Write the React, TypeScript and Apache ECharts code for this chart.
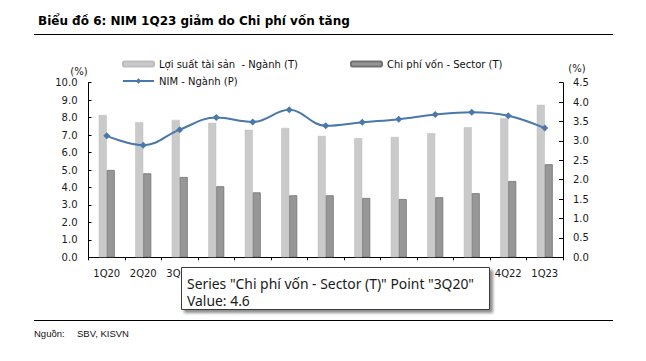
import React, { useEffect, useRef } from "react";
import * as echarts from "echarts";

const categories = ["1Q20", "2Q20", "3Q20", "4Q20", "1Q21", "2Q21", "3Q21", "4Q21", "1Q22", "2Q22", "3Q22", "4Q22", "1Q23"];
const assetYield = [8.15, 7.74, 7.87, 7.7, 7.3, 7.41, 6.95, 6.82, 6.89, 7.11, 7.45, 7.97, 8.73];
const costOfFunds = [5.0, 4.81, 4.6, 4.07, 3.72, 3.55, 3.55, 3.4, 3.34, 3.44, 3.67, 4.37, 5.33];
const nim = [3.13, 2.89, 3.29, 3.6, 3.49, 3.8, 3.39, 3.48, 3.56, 3.68, 3.74, 3.65, 3.33];

const seriesNames = ["Lợi suất tài sản  - Ngành (T)", "Chi phí vốn - Sector (T)", "NIM - Ngành (P)"];
const titleText = "Biểu đồ 6: NIM 1Q23 giảm do Chi phí vốn tăng";
const sourceLabel = "Nguồn:";
const sourceText = "SBV, KISVN";
const tipIndex = 2;
// x-axis labels hidden behind the hover box in the reference
const hiddenLabelFrom = 3;
const hiddenLabelTo = 10;

const FONT = "DejaVu Sans";

export default function App() {
  const ref = useRef<HTMLDivElement>(null);
  useEffect(() => {
    if (!ref.current) return;
    const chart = echarts.init(ref.current, undefined, { renderer: "svg" });
    const axisLabelStyle = { color: "#1a1a1a", fontSize: 10, fontFamily: FONT };
    const legendBase = {
      orient: "horizontal" as const,
      itemWidth: 31,
      itemHeight: 5,
      textStyle: { color: "#111", fontSize: 10, fontFamily: FONT },
      selectedMode: false,
    };
    chart.setOption({
      animation: false,
      backgroundColor: "#ffffff",
      grid: { left: 88.5, right: 83, top: 82.7, bottom: 103.7, containLabel: false },
      legend: [
        { ...legendBase, left: 117, top: 54, data: [seriesNames[0]] },
        { ...legendBase, left: 345, top: 54, data: [seriesNames[1]] },
        { ...legendBase, left: 117, top: 71, itemHeight: 7, data: [seriesNames[2]] },
      ],
      xAxis: {
        type: "category",
        data: categories,
        axisLine: { lineStyle: { color: "#000", width: 1 } },
        axisTick: { show: true, length: 3, interval: 0, lineStyle: { color: "#000" } },
        axisLabel: {
          ...axisLabelStyle,
          margin: 11,
          interval: (i: number) => i < hiddenLabelFrom || i > hiddenLabelTo,
        },
        splitLine: { show: false },
      },
      yAxis: [
        {
          type: "value",
          min: 0,
          max: 10,
          interval: 1,
          position: "left",
          axisLine: { show: true, lineStyle: { color: "#000", width: 1 } },
          axisTick: { show: true, inside: true, length: 3, lineStyle: { color: "#000" } },
          axisLabel: { ...axisLabelStyle, margin: 11, formatter: (v: number) => v.toFixed(1) },
          splitLine: { show: false },
        },
        {
          type: "value",
          min: 0,
          max: 4.5,
          interval: 0.5,
          position: "right",
          axisLine: { show: true, lineStyle: { color: "#000", width: 1 } },
          axisTick: { show: true, inside: true, length: 4, lineStyle: { color: "#000" } },
          axisLabel: { ...axisLabelStyle, margin: 10, formatter: (v: number) => v.toFixed(1) },
          splitLine: { show: false },
        },
      ],
      series: [
        {
          name: seriesNames[0],
          type: "bar",
          yAxisIndex: 0,
          data: assetYield,
          barWidth: 8,
          barGap: "0%",
          itemStyle: { color: "#cacaca", borderColor: "#bdbdbd", borderWidth: 0.5 },
        },
        {
          name: seriesNames[1],
          type: "bar",
          yAxisIndex: 0,
          data: costOfFunds,
          barWidth: 8,
          barGap: "0%",
          itemStyle: { color: "#979797", borderColor: "#727272", borderWidth: 0.8 },
        },
        {
          name: seriesNames[2],
          type: "line",
          yAxisIndex: 1,
          data: nim,
          smooth: 0.4,
          symbol: "diamond",
          symbolSize: 7,
          lineStyle: { color: "#4a78aa", width: 2 },
          itemStyle: { color: "#4a78aa" },
          z: 5,
        },
      ],
      graphic: [
        {
          type: "text",
          x: 38,
          y: 21,
          z: 100,
          style: {
            text: titleText,
            fontSize: 12,
            fontWeight: "bold",
            fontFamily: FONT,
            fill: "#000",
            verticalAlign: "middle",
          },
        },
        { type: "line", z: 100, shape: { x1: 34, y1: 34.5, x2: 613, y2: 34.5 }, style: { stroke: "#000", lineWidth: 1.2 } },
        {
          type: "text",
          x: 79,
          y: 71,
          z: 100,
          style: { text: "(%)", fontSize: 10, fontFamily: FONT, fill: "#1a1a1a", align: "center", verticalAlign: "middle" },
        },
        {
          type: "text",
          x: 577,
          y: 68,
          z: 100,
          style: { text: "(%)", fontSize: 10, fontFamily: FONT, fill: "#1a1a1a", align: "center", verticalAlign: "middle" },
        },
        {
          type: "rect",
          z: 100,
          shape: { x: 181.5, y: 267.5, width: 308, height: 42 },
          style: {
            fill: "#ffffff",
            stroke: "#3a3a3a",
            lineWidth: 1,
            shadowBlur: 3,
            shadowOffsetX: 3,
            shadowOffsetY: 3,
            shadowColor: "rgba(0,0,0,0.45)",
          },
        },
        {
          type: "text",
          x: 187,
          y: 283.3,
          z: 101,
          style: {
            text: `Series "${seriesNames[1]}" Point "${categories[tipIndex]}"`,
            fontSize: 13.9,
            lineHeight: 15,
            fontFamily: "Noto Sans",
            fill: "#1a1a1a",
            verticalAlign: "middle",
          },
        },
        {
          type: "text",
          x: 187,
          y: 300.6,
          z: 101,
          style: {
            text: `Value: ${costOfFunds[tipIndex].toFixed(1)}`,
            fontSize: 13.9,
            lineHeight: 15,
            fontFamily: "Noto Sans",
            fill: "#1a1a1a",
            verticalAlign: "middle",
          },
        },
        { type: "line", z: 100, shape: { x1: 34, y1: 320.5, x2: 613, y2: 320.5 }, style: { stroke: "#000", lineWidth: 1.2 } },
        {
          type: "text",
          x: 34,
          y: 333,
          z: 100,
          style: { text: sourceLabel, fontSize: 9.5, fontFamily: "Liberation Sans", fill: "#111", verticalAlign: "middle" },
        },
        {
          type: "text",
          x: 77,
          y: 333,
          z: 100,
          style: { text: sourceText, fontSize: 9.5, fontFamily: "Liberation Sans", fill: "#111", verticalAlign: "middle" },
        },
      ],
    });
    return () => chart.dispose();
  }, []);
  return <div ref={ref} style={{ position: "absolute", left: 0, top: 0, width: 646, height: 361 }} />;
}
